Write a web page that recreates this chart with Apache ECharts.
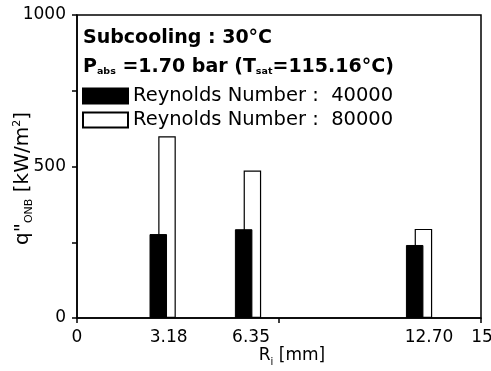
<!DOCTYPE html>
<html>
<head>
<meta charset="utf-8">
<script src="https://cdn.jsdelivr.net/npm/echarts@6/dist/echarts.min.js"></script>
<style>
html,body{margin:0;padding:0;background:#fff;}
#chart{width:491px;height:371px;}
</style>
</head>
<body>
<div id="chart"></div>
<script>
// Data
var radii = [3.18, 6.35, 12.70];
var seriesNames = ['Reynolds Number :  40000', 'Reynolds Number :  80000'];
var qRe40000 = [277, 293, 241];
var qRe80000 = [600, 487, 294];
var xTickLabels = [0, 3.18, 6.35, 12.70, 15];
var xTickMarks = [0, 7.5, 15];
var yTickLabels = [0, 500, 1000];

var FONT = '"DejaVu Sans", Verdana, sans-serif';

var chart = echarts.init(document.getElementById('chart'), null, {renderer: 'canvas'});

function pairs(xs, ys) {
  return xs.map(function (x, i) { return [x, ys[i]]; });
}

var xLabelStyle = {
  l0: {fontFamily: FONT, fontSize: 17, color: '#000', padding: [0, 0, 0, 0]},
  l1: {fontFamily: FONT, fontSize: 17, color: '#000', padding: [0, 0, 0, 12]},
  l2: {fontFamily: FONT, fontSize: 17, color: '#000', padding: [0, 0, 0, 6]},
  l3: {fontFamily: FONT, fontSize: 17, color: '#000', padding: [0, 0, 0, 20]},
  l4: {fontFamily: FONT, fontSize: 17, color: '#000', padding: [0, 0, 0, 2]}
};

var option = {
  animation: false,
  backgroundColor: '#fff',
  textStyle: {fontFamily: FONT},
  grid: {
    left: 77, right: 10, top: 15, bottom: 53,
    containLabel: false, outerBoundsMode: 'none',
    show: true, borderColor: '#000', borderWidth: 1.5, backgroundColor: 'transparent'
  },
  legend: {
    orient: 'vertical',
    left: 77, top: 81,
    itemWidth: 45, itemHeight: 15, itemGap: 4,
    icon: 'rect',
    textStyle: {fontFamily: FONT, fontSize: 19.5, color: '#000'},
    data: seriesNames
  },
  graphic: [
    {
      type: 'text', left: 83, top: 29,
      style: {text: 'Subcooling : 30°C', font: 'bold 19px ' + FONT, fill: '#000'}
    },
    {
      type: 'text', left: 83, top: 58,
      style: {
        text: '{b|P}{s|abs}{b| =1.70 bar (T}{s|sat}{b|=115.16°C)}',
        rich: {
          b: {font: 'bold 19px ' + FONT, fill: '#000', verticalAlign: 'bottom'},
          s: {font: 'bold 9.5px ' + FONT, fill: '#000', padding: [13, 0, 0, 0], verticalAlign: 'bottom'}
        }
      }
    }
  ],
  xAxis: {
    type: 'value', min: 0, max: 15,
    name: '{n|R}{s|i}{n| [mm]}',
    nameLocation: 'middle', nameGap: 27, nameMoveOverlap: false,
    nameTextStyle: {
      padding: [0, 0, 0, 26],
      rich: {
        n: {fontFamily: FONT, fontSize: 17, color: '#000'},
        s: {fontFamily: FONT, fontSize: 10, color: '#000', padding: [12, 0, 0, 0]}
      }
    },
    splitLine: {show: false},
    axisLine: {show: true, onZero: false, lineStyle: {color: '#000', width: 1.5}},
    axisTick: {show: true, customValues: xTickMarks, length: 5, lineStyle: {color: '#000', width: 1.5}},
    axisLabel: {
      customValues: xTickLabels,
      color: '#000', fontFamily: FONT, fontSize: 17, margin: 11,
      rich: xLabelStyle,
      formatter: function (v) {
        var i = xTickLabels.indexOf(v);
        var s = (v === 0 || v === 15) ? String(v) : v.toFixed(2);
        return '{l' + i + '|' + s + '}';
      }
    }
  },
  yAxis: {
    type: 'value', min: 0, max: 1000, interval: 250,
    name: '{n|q"}{s|ONB}{n| [kW/m}{p|2}{n|]}',
    nameLocation: 'middle', nameGap: 42, nameMoveOverlap: false,
    nameTextStyle: {
      padding: [0, 24, 0, 0],
      rich: {
        n: {fontFamily: FONT, fontSize: 20, color: '#000'},
        s: {fontFamily: FONT, fontSize: 11, color: '#000', padding: [13, 0, 0, 0]},
        p: {fontFamily: FONT, fontSize: 11, color: '#000', padding: [0, 0, 11, 0]}
      }
    },
    splitLine: {show: false},
    axisLine: {show: true, lineStyle: {color: '#000', width: 1.5}},
    axisTick: {show: true, length: 5, lineStyle: {color: '#000', width: 1.5}},
    axisLabel: {
      color: '#000', fontFamily: FONT, fontSize: 17, margin: 11,
      formatter: function (v) {
        return yTickLabels.indexOf(v) >= 0 ? String(v) : '';
      }
    }
  },
  series: [
    {
      name: seriesNames[0], type: 'bar',
      data: pairs(radii, qRe40000),
      barWidth: 17.5, barGap: '-50%', z: 4,
      itemStyle: {color: '#000', borderColor: '#000', borderWidth: 1}
    },
    {
      name: seriesNames[1], type: 'bar',
      data: pairs(radii, qRe80000),
      barWidth: 17.5, z: 3,
      itemStyle: {color: '#fff', borderColor: '#000', borderWidth: 1.2}
    }
  ]
};
chart.setOption(option);
</script>
</body>
</html>
